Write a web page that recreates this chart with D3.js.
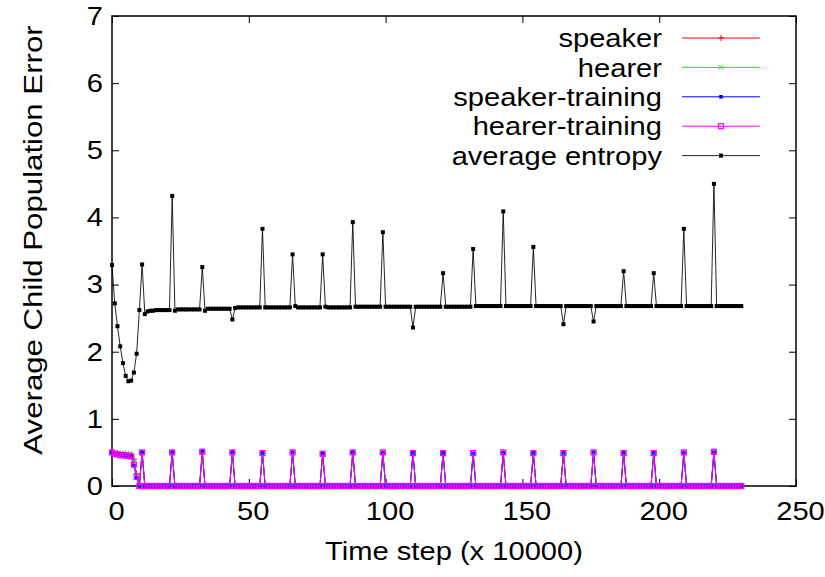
<!DOCTYPE html>
<html>
<head>
<meta charset="utf-8">
<script src="https://cdn.jsdelivr.net/npm/d3@7"></script>
<style>
  body { margin: 0; background: #fff; }
  text { font-family: "Liberation Sans", Arial, sans-serif; fill: #000; }
</style>
</head>
<body>
<svg id="chart" width="825" height="577"></svg>
<script>
// time steps (x 10000)
const steps = d3.range(0, 231)

const xTicks = [0, 50, 100, 150, 200, 250]
const yTicks = [0, 1, 2, 3, 4, 5, 6, 7]

const seriesNames = ["speaker", "hearer", "speaker-training", "hearer-training", "average entropy"]

// one line of 11 values per row, a spike starts every row after the first
const speaker = [
  0.50, 0.49, 0.49, 0.48, 0.48, 0.48, 0.47, 0.47, 0.40, 0.18, 0.00,
  0.50, 0, 0, 0, 0, 0, 0, 0, 0, 0, 0,
  0.50, 0, 0, 0, 0, 0, 0, 0, 0, 0, 0,
  0.51, 0, 0, 0, 0, 0, 0, 0, 0, 0, 0,
  0.50, 0, 0, 0, 0, 0, 0, 0, 0, 0, 0,
  0.49, 0, 0, 0, 0, 0, 0, 0, 0, 0, 0,
  0.50, 0, 0, 0, 0, 0, 0, 0, 0, 0, 0,
  0.48, 0, 0, 0, 0, 0, 0, 0, 0, 0, 0,
  0.50, 0, 0, 0, 0, 0, 0, 0, 0, 0, 0,
  0.50, 0, 0, 0, 0, 0, 0, 0, 0, 0, 0,
  0.49, 0, 0, 0, 0, 0, 0, 0, 0, 0, 0,
  0.49, 0, 0, 0, 0, 0, 0, 0, 0, 0, 0,
  0.49, 0, 0, 0, 0, 0, 0, 0, 0, 0, 0,
  0.50, 0, 0, 0, 0, 0, 0, 0, 0, 0, 0,
  0.49, 0, 0, 0, 0, 0, 0, 0, 0, 0, 0,
  0.49, 0, 0, 0, 0, 0, 0, 0, 0, 0, 0,
  0.50, 0, 0, 0, 0, 0, 0, 0, 0, 0, 0,
  0.49, 0, 0, 0, 0, 0, 0, 0, 0, 0, 0,
  0.49, 0, 0, 0, 0, 0, 0, 0, 0, 0, 0,
  0.50, 0, 0, 0, 0, 0, 0, 0, 0, 0, 0,
  0.51, 0, 0, 0, 0, 0, 0, 0, 0, 0, 0
]

const hearer = [
  0.50, 0.49, 0.49, 0.48, 0.48, 0.47, 0.47, 0.46, 0.36, 0.15, 0.00,
  0.50, 0, 0, 0, 0, 0, 0, 0, 0, 0, 0,
  0.50, 0, 0, 0, 0, 0, 0, 0, 0, 0, 0,
  0.51, 0, 0, 0, 0, 0, 0, 0, 0, 0, 0,
  0.50, 0, 0, 0, 0, 0, 0, 0, 0, 0, 0,
  0.49, 0, 0, 0, 0, 0, 0, 0, 0, 0, 0,
  0.50, 0, 0, 0, 0, 0, 0, 0, 0, 0, 0,
  0.48, 0, 0, 0, 0, 0, 0, 0, 0, 0, 0,
  0.50, 0, 0, 0, 0, 0, 0, 0, 0, 0, 0,
  0.50, 0, 0, 0, 0, 0, 0, 0, 0, 0, 0,
  0.49, 0, 0, 0, 0, 0, 0, 0, 0, 0, 0,
  0.49, 0, 0, 0, 0, 0, 0, 0, 0, 0, 0,
  0.49, 0, 0, 0, 0, 0, 0, 0, 0, 0, 0,
  0.50, 0, 0, 0, 0, 0, 0, 0, 0, 0, 0,
  0.49, 0, 0, 0, 0, 0, 0, 0, 0, 0, 0,
  0.49, 0, 0, 0, 0, 0, 0, 0, 0, 0, 0,
  0.50, 0, 0, 0, 0, 0, 0, 0, 0, 0, 0,
  0.49, 0, 0, 0, 0, 0, 0, 0, 0, 0, 0,
  0.49, 0, 0, 0, 0, 0, 0, 0, 0, 0, 0,
  0.50, 0, 0, 0, 0, 0, 0, 0, 0, 0, 0,
  0.51, 0, 0, 0, 0, 0, 0, 0, 0, 0, 0
]

const speakerTraining = [
  0.50, 0.48, 0.47, 0.47, 0.46, 0.46, 0.45, 0.44, 0.30, 0.12, 0.00,
  0.50, 0, 0, 0, 0, 0, 0, 0, 0, 0, 0,
  0.50, 0, 0, 0, 0, 0, 0, 0, 0, 0, 0,
  0.51, 0, 0, 0, 0, 0, 0, 0, 0, 0, 0,
  0.50, 0, 0, 0, 0, 0, 0, 0, 0, 0, 0,
  0.49, 0, 0, 0, 0, 0, 0, 0, 0, 0, 0,
  0.50, 0, 0, 0, 0, 0, 0, 0, 0, 0, 0,
  0.48, 0, 0, 0, 0, 0, 0, 0, 0, 0, 0,
  0.50, 0, 0, 0, 0, 0, 0, 0, 0, 0, 0,
  0.49, 0, 0, 0, 0, 0, 0, 0, 0, 0, 0,
  0.49, 0, 0, 0, 0, 0, 0, 0, 0, 0, 0,
  0.49, 0, 0, 0, 0, 0, 0, 0, 0, 0, 0,
  0.48, 0, 0, 0, 0, 0, 0, 0, 0, 0, 0,
  0.49, 0, 0, 0, 0, 0, 0, 0, 0, 0, 0,
  0.49, 0, 0, 0, 0, 0, 0, 0, 0, 0, 0,
  0.49, 0, 0, 0, 0, 0, 0, 0, 0, 0, 0,
  0.50, 0, 0, 0, 0, 0, 0, 0, 0, 0, 0,
  0.49, 0, 0, 0, 0, 0, 0, 0, 0, 0, 0,
  0.49, 0, 0, 0, 0, 0, 0, 0, 0, 0, 0,
  0.49, 0, 0, 0, 0, 0, 0, 0, 0, 0, 0,
  0.50, 0, 0, 0, 0, 0, 0, 0, 0, 0, 0
]

const hearerTraining = [
  0.50, 0.48, 0.47, 0.46, 0.46, 0.455, 0.45, 0.44, 0.32, 0.14, 0.00,
  0.50, 0, 0, 0, 0, 0, 0, 0, 0, 0, 0,
  0.50, 0, 0, 0, 0, 0, 0, 0, 0, 0, 0,
  0.51, 0, 0, 0, 0, 0, 0, 0, 0, 0, 0,
  0.50, 0, 0, 0, 0, 0, 0, 0, 0, 0, 0,
  0.49, 0, 0, 0, 0, 0, 0, 0, 0, 0, 0,
  0.50, 0, 0, 0, 0, 0, 0, 0, 0, 0, 0,
  0.48, 0, 0, 0, 0, 0, 0, 0, 0, 0, 0,
  0.50, 0, 0, 0, 0, 0, 0, 0, 0, 0, 0,
  0.50, 0, 0, 0, 0, 0, 0, 0, 0, 0, 0,
  0.49, 0, 0, 0, 0, 0, 0, 0, 0, 0, 0,
  0.49, 0, 0, 0, 0, 0, 0, 0, 0, 0, 0,
  0.49, 0, 0, 0, 0, 0, 0, 0, 0, 0, 0,
  0.50, 0, 0, 0, 0, 0, 0, 0, 0, 0, 0,
  0.49, 0, 0, 0, 0, 0, 0, 0, 0, 0, 0,
  0.49, 0, 0, 0, 0, 0, 0, 0, 0, 0, 0,
  0.50, 0, 0, 0, 0, 0, 0, 0, 0, 0, 0,
  0.49, 0, 0, 0, 0, 0, 0, 0, 0, 0, 0,
  0.49, 0, 0, 0, 0, 0, 0, 0, 0, 0, 0,
  0.50, 0, 0, 0, 0, 0, 0, 0, 0, 0, 0,
  0.51, 0, 0, 0, 0, 0, 0, 0, 0, 0, 0
]

const averageEntropy = [
  3.29, 2.72, 2.38, 2.08, 1.83, 1.64, 1.56, 1.57, 1.69, 1.97, 2.62,
  3.30, 2.56, 2.60, 2.61, 2.61, 2.62, 2.62, 2.62, 2.62, 2.62, 2.62,
  4.32, 2.61, 2.63, 2.63, 2.63, 2.63, 2.63, 2.63, 2.63, 2.63, 2.63,
  3.26, 2.61, 2.64, 2.64, 2.64, 2.64, 2.64, 2.64, 2.64, 2.64, 2.64,
  2.48, 2.65, 2.66, 2.66, 2.66, 2.66, 2.66, 2.66, 2.66, 2.66, 2.66,
  3.83, 2.66, 2.66, 2.66, 2.66, 2.66, 2.66, 2.66, 2.66, 2.66, 2.66,
  3.45, 2.68, 2.66, 2.66, 2.66, 2.66, 2.66, 2.66, 2.66, 2.66, 2.66,
  3.45, 2.67, 2.66, 2.66, 2.66, 2.66, 2.66, 2.66, 2.66, 2.66, 2.66,
  3.93, 2.67, 2.67, 2.67, 2.67, 2.67, 2.67, 2.67, 2.67, 2.67, 2.67,
  3.78, 2.67, 2.67, 2.67, 2.67, 2.67, 2.67, 2.67, 2.67, 2.67, 2.67,
  2.36, 2.67, 2.67, 2.67, 2.67, 2.67, 2.67, 2.67, 2.67, 2.67, 2.67,
  3.17, 2.67, 2.67, 2.67, 2.67, 2.67, 2.67, 2.67, 2.67, 2.67, 2.67,
  3.53, 2.68, 2.68, 2.68, 2.68, 2.68, 2.68, 2.68, 2.68, 2.68, 2.68,
  4.09, 2.68, 2.68, 2.68, 2.68, 2.68, 2.68, 2.68, 2.68, 2.68, 2.68,
  3.56, 2.68, 2.68, 2.68, 2.68, 2.68, 2.68, 2.68, 2.68, 2.68, 2.68,
  2.41, 2.68, 2.68, 2.68, 2.68, 2.68, 2.68, 2.68, 2.68, 2.68, 2.68,
  2.45, 2.68, 2.68, 2.68, 2.68, 2.68, 2.68, 2.68, 2.68, 2.68, 2.68,
  3.20, 2.68, 2.68, 2.68, 2.68, 2.68, 2.68, 2.68, 2.68, 2.68, 2.68,
  3.17, 2.68, 2.68, 2.68, 2.68, 2.68, 2.68, 2.68, 2.68, 2.68, 2.68,
  3.83, 2.68, 2.68, 2.68, 2.68, 2.68, 2.68, 2.68, 2.68, 2.68, 2.68,
  4.50, 2.68, 2.68, 2.68, 2.68, 2.68, 2.68, 2.68, 2.68, 2.68, 2.68
]

const seriesValues = [speaker, hearer, speakerTraining, hearerTraining, averageEntropy]

// gnuplot-ish styles
const colors = ["#ff0000", "#00ff00", "#0000ff", "#ff00ff", "#000000"]
const markers = ["plus", "cross", "square", "openSquare", "bigSquare"]

const margin = { top: 16, right: 29, bottom: 91, left: 112 }
const width = 825, height = 577
const fontSize = 26
const stretch = 1.12    // the original text is a bit wider than Liberation Sans
const yTitleStretch = 1.2

const svg = d3.select("#chart")

const x = d3.scaleLinear().domain([0, 250]).range([margin.left, width - margin.right])
const y = d3.scaleLinear().domain([0, 7]).range([height - margin.bottom, margin.top])

// frame
svg.append("rect")
    .attr("x", x(0)).attr("y", y(7))
    .attr("width", x(250) - x(0)).attr("height", y(0) - y(7))
    .attr("fill", "none").attr("stroke", "#111").attr("stroke-width", 1.6)

// bottom axis, ticks pointing inside
const gx = svg.append("g")
    .attr("transform", "translate(0," + y(0) + ")")
    .call(d3.axisBottom(x).tickValues(xTicks).tickFormat(d3.format("d"))
        .tickSizeInner(-7).tickSizeOuter(0).tickPadding(16))
// top mirror ticks
const gxTop = svg.append("g")
    .attr("transform", "translate(0," + y(7) + ")")
    .call(d3.axisTop(x).tickValues(xTicks).tickSizeInner(-7).tickSizeOuter(0).tickFormat(""))
// left axis
const gy = svg.append("g")
    .attr("transform", "translate(" + x(0) + ",0)")
    .call(d3.axisLeft(y).tickValues(yTicks).tickFormat(d3.format("d"))
        .tickSizeInner(-7).tickSizeOuter(0).tickPadding(8))
// right mirror ticks
const gyRight = svg.append("g")
    .attr("transform", "translate(" + x(250) + ",0)")
    .call(d3.axisRight(y).tickValues(yTicks).tickSizeInner(-7).tickSizeOuter(0).tickFormat(""))

for (const g of [gx, gxTop, gy, gyRight]) {
    g.select(".domain").remove()
    g.selectAll(".tick line").attr("stroke", "#000").attr("stroke-width", 1)
    g.selectAll("text")
        .attr("font-size", fontSize)
        .attr("font-family", "Liberation Sans, Arial, sans-serif")
        .attr("fill", "#000")
        .attr("transform", "scale(" + stretch + ",1)")
}
// x labels sit a few pixels right of their ticks in the original
gx.selectAll("text").attr("transform", "translate(4,0) scale(" + stretch + ",1)")

// axis titles
svg.append("g")
    .attr("transform", "translate(" + (x(0) + x(250)) / 2 + ",551) scale(" + stretch + ",1)")
    .append("text")
    .attr("text-anchor", "middle").attr("dy", "0.35em")
    .attr("font-size", fontSize)
    .text("Time step (x 10000)")

svg.append("g")
    .attr("transform", "translate(33,240) rotate(-90) scale(" + yTitleStretch + ",1)")
    .append("text")
    .attr("text-anchor", "middle").attr("dy", "0.35em")
    .attr("font-size", fontSize)
    .text("Average Child Population Error")

// marker drawing
const drawMarker = (sel, type, color) => {
    if (type === "plus") {
        sel.append("path").attr("d", "M-3,0H3M0,-3V3")
            .attr("stroke", color).attr("stroke-width", 1).attr("fill", "none")
    } else if (type === "cross") {
        sel.append("path").attr("d", "M-2.5,-2.5L2.5,2.5M-2.5,2.5L2.5,-2.5")
            .attr("stroke", color).attr("stroke-width", 1).attr("fill", "none")
    } else if (type === "square") {
        sel.append("rect").attr("x", -1.8).attr("y", -1.8).attr("width", 3.6).attr("height", 3.6)
            .attr("fill", color)
    } else if (type === "openSquare") {
        sel.append("rect").attr("x", -2.5).attr("y", -2.5).attr("width", 5).attr("height", 5)
            .attr("fill", "none").attr("stroke", color).attr("stroke-width", 1.2)
    } else {
        sel.append("rect").attr("x", -2).attr("y", -2).attr("width", 4).attr("height", 4)
            .attr("fill", color)
    }
}

const line = d3.line()
    .x((d, i) => x(steps[i]))
    .y(d => y(d))

seriesValues.forEach((values, s) => {
    const g = svg.append("g").attr("class", "series")
    g.append("path")
        .datum(values)
        .attr("d", line)
        .attr("fill", "none")
        .attr("stroke", colors[s])
        .attr("stroke-width", 1)
        .attr("stroke-opacity", s === 4 ? 0.85 : 1)

    g.selectAll("g.pt")
        .data(values)
        .join("g")
        .attr("class", "pt")
        .attr("transform", (d, i) => "translate(" + x(steps[i]) + "," + y(d) + ")")
        .each(function () { drawMarker(d3.select(this), markers[s], colors[s]) })
})

// legend
const legendTop = 38, legendStep = 29.4
seriesNames.forEach((name, s) => {
    const ly = legendTop + s * legendStep
    const lg = svg.append("g").attr("transform", "translate(0," + ly + ")")
    lg.append("g")
        .attr("transform", "translate(662,0) scale(" + stretch + ",1)")
        .append("text")
        .attr("text-anchor", "end").attr("dy", "0.35em")
        .attr("font-size", fontSize)
        .text(name)
    lg.append("line")
        .attr("x1", 682).attr("x2", 760).attr("y1", 0).attr("y2", 0)
        .attr("stroke", colors[s]).attr("stroke-width", 1)
        .attr("stroke-opacity", s === 4 ? 0.85 : 1)
    drawMarker(lg.append("g").attr("transform", "translate(721,0)"), markers[s], colors[s])
})
</script>
</body>
</html>
